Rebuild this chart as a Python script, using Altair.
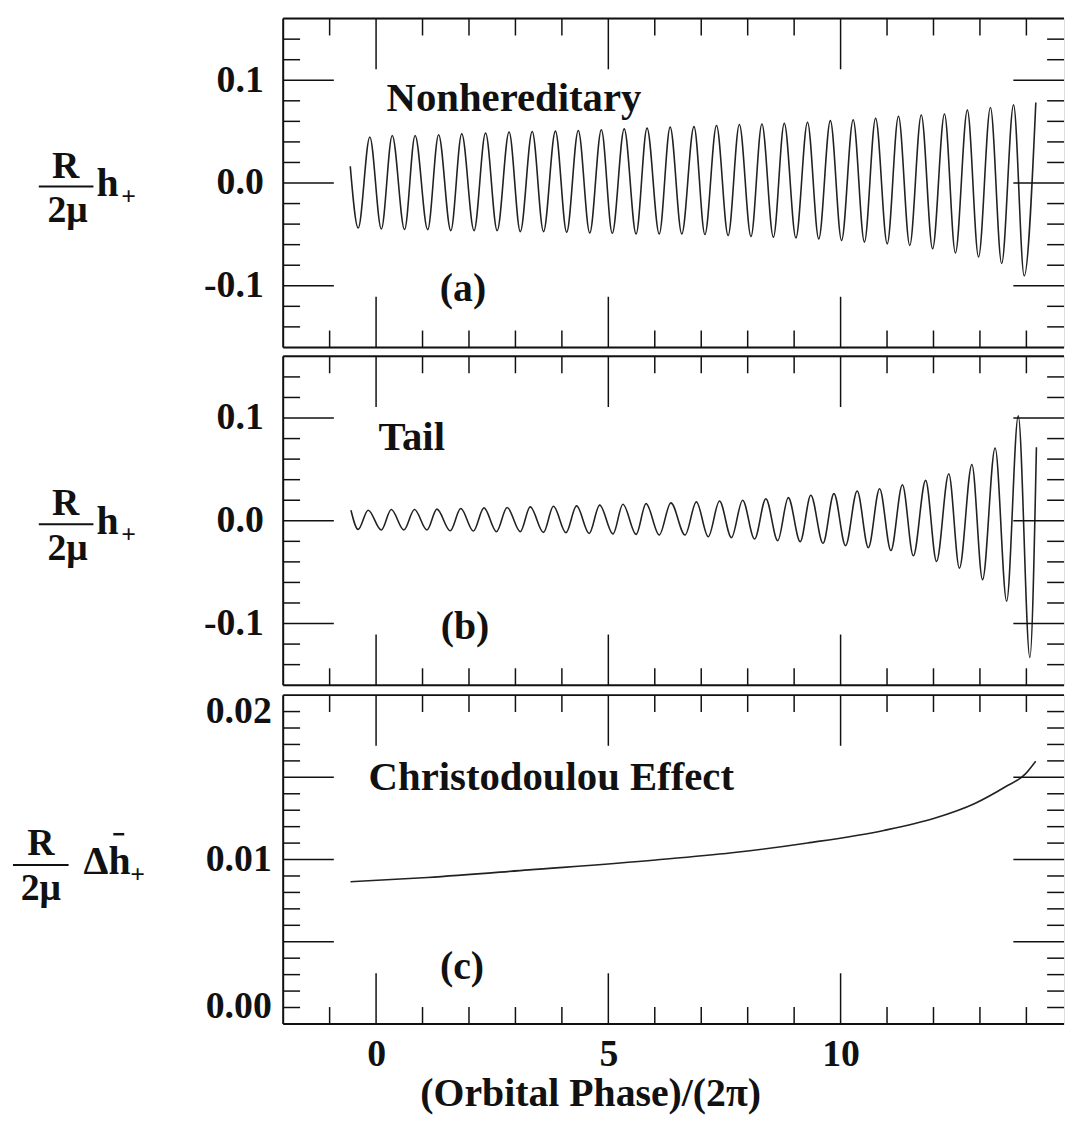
import altair as alt
import pandas as pd

# ---------------- data ----------------
# (a) Nonhereditary waveform: start point, alternating extrema, end point
a_x = [-0.556, -0.385, -0.135, 0.113, 0.348, 0.613, 0.840, 1.111, 1.346, 1.609, 1.844,
       2.109, 2.357, 2.607, 2.863, 3.105, 3.361, 3.605, 3.861, 4.103, 4.353, 4.600,
       4.850, 5.085, 5.342, 5.598, 5.833, 6.096, 6.331, 6.581, 6.844, 7.079, 7.329,
       7.579, 7.821, 8.071, 8.306, 8.553, 8.788, 9.038, 9.288, 9.530, 9.780, 10.021,
       10.271, 10.513, 10.754, 11.004, 11.246, 11.489, 11.737, 11.981, 12.237, 12.472,
       12.729, 12.970, 13.226, 13.468, 13.724, 13.953, 14.203]
a_y = [0.0163, -0.0438, 0.0448, -0.0448, 0.0463, -0.0454, 0.0463, -0.0454, 0.0470, -0.0463,
       0.0479, -0.0463, 0.0486, -0.0463, 0.0496, -0.0473, 0.0501, -0.0473, 0.0505, -0.0479,
       0.0511, -0.0486, 0.0518, -0.0489, 0.0527, -0.0496, 0.0534, -0.0496, 0.0544, -0.0496,
       0.0549, -0.0501, 0.0559, -0.0511, 0.0569, -0.0521, 0.0575, -0.0527, 0.0582, -0.0534,
       0.0592, -0.0544, 0.0607, -0.0559, 0.0616, -0.0575, 0.0630, -0.0592, 0.0649, -0.0607,
       0.0662, -0.0640, 0.0671, -0.0681, 0.0709, -0.0719, 0.0735, -0.0783, 0.0760, -0.0904,
       0.0783]

# (b) Tail waveform
b_x = [-0.541, -0.385, -0.171, 0.113, 0.327, 0.598, 0.827, 1.096, 1.310, 1.596, 1.823,
       2.094, 2.323, 2.592, 2.821, 3.105, 3.318, 3.605, 3.818, 4.088, 4.316, 4.588,
       4.814, 5.100, 5.314, 5.598, 5.812, 6.096, 6.346, 6.652, 6.895, 7.151, 7.393,
       7.650, 7.891, 8.148, 8.391, 8.647, 8.874, 9.131, 9.359, 9.622, 9.857, 10.107,
       10.357, 10.598, 10.840, 11.083, 11.331, 11.566, 11.831, 12.066, 12.329, 12.558,
       12.827, 13.056, 13.327, 13.575, 13.825, 14.075, 14.216]
b_y = [0.0103, -0.0084, 0.0103, -0.0090, 0.0109, -0.0090, 0.0109, -0.0090, 0.0113, -0.0097,
       0.0119, -0.0100, 0.0126, -0.0106, 0.0129, -0.0106, 0.0135, -0.0113, 0.0142, -0.0116,
       0.0145, -0.0123, 0.0152, -0.0129, 0.0161, -0.0132, 0.0167, -0.0138, 0.0174, -0.0138,
       0.0184, -0.0155, 0.0193, -0.0164, 0.0200, -0.0177, 0.0215, -0.0193, 0.0225, -0.0203,
       0.0248, -0.0219, 0.0264, -0.0242, 0.0290, -0.0261, 0.0312, -0.0290, 0.0351, -0.0341,
       0.0393, -0.0396, 0.0457, -0.0461, 0.0548, -0.0573, 0.0708, -0.0783, 0.1021, -0.1330,
       0.0715]

# (c) Christodoulou effect
c_x = [-0.55, 1.11, 3.29, 6.02, 7.66, 9.29, 10.93, 12.02, 12.89, 13.54, 13.98, 14.2]
c_y = [0.00865, 0.00891, 0.00937, 0.00997, 0.01041, 0.01101, 0.01177, 0.01251,
       0.01341, 0.01441, 0.01521, 0.01598]

# tick values
x_major = [0, 5, 10]
x_minor = [-1, 1, 2, 3, 4, 6, 7, 8, 9, 11, 12, 13, 14]
y_ab_major = [-0.1, 0.0, 0.1]
y_ab_minor = [-0.14, -0.12, -0.08, -0.06, -0.04, -0.02, 0.02, 0.04, 0.06, 0.08, 0.12, 0.14]
y_c_major = [0.005, 0.01, 0.015]
y_c_minor = [0.001, 0.002, 0.003, 0.004, 0.006, 0.007, 0.008, 0.009, 0.011, 0.012,
             0.013, 0.014, 0.016, 0.017, 0.018, 0.019]
x_labels = [0, 5, 10]
y_ab_labels = [-0.1, 0.0, 0.1]
y_c_labels = [0.0, 0.01, 0.02]

panel_names = ["Nonhereditary", "Tail", "Christodoulou Effect"]
panel_tags = ["(a)", "(b)", "(c)"]
x_title = "(Orbital Phase)/(2\u03c0)"

# ---------------- style ----------------
FONT = "Liberation Serif"
W, H = 786, 331
MAJ, MIN = 51, 17
INK = "#111111"
xscale = alt.Scale(domain=[-2, 14.81], nice=False, zero=False)
one = pd.DataFrame({"k": [0]})


def txt(s, x, y, size, align="left", baseline="alphabetic"):
    return alt.Chart(one).mark_text(
        text=s, font=FONT, fontWeight="bold", fontSize=size, align=align,
        baseline=baseline, color=INK
    ).encode(x=alt.value(x), y=alt.value(y))


def hrule(x1, x2, y, w=2):
    return alt.Chart(one).mark_rule(color=INK, strokeWidth=w).encode(
        x=alt.value(x1), x2=alt.value(x2), y=alt.value(y))


def vrule(x, y1, y2, w=2):
    return alt.Chart(one).mark_rule(color=INK, strokeWidth=w).encode(
        x=alt.value(x), y=alt.value(y1), y2=alt.value(y2))


def panel(xs, ys, yscale, yaxis, xaxis, ymaj, ymin, interp, label_layers):
    df = pd.DataFrame({"x": xs, "y": ys})
    X = lambda f: alt.X(f, type="quantitative", scale=xscale, axis=xaxis)
    Y = lambda f: alt.Y(f, type="quantitative", scale=yscale, axis=yaxis)
    line = alt.Chart(df).mark_line(color="#222222", strokeWidth=1.6,
                                   interpolate=interp, clip=True).encode(
        x=X("x"), y=Y("y"))
    layers = [line]
    for vals, ln in ((x_major, MAJ), (x_minor, MIN)):
        d = pd.DataFrame({"t": vals})
        layers.append(alt.Chart(d).mark_rule(color=INK, strokeWidth=1.5).encode(
            x=X("t"), y=alt.value(H), y2=alt.value(H - ln)))
        layers.append(alt.Chart(d).mark_rule(color=INK, strokeWidth=1.5).encode(
            x=X("t"), y=alt.value(0), y2=alt.value(ln)))
    for vals, ln in ((ymaj, MAJ), (ymin, MIN)):
        d = pd.DataFrame({"t": vals})
        layers.append(alt.Chart(d).mark_rule(color=INK, strokeWidth=1.5).encode(
            y=Y("t"), x=alt.value(0), x2=alt.value(ln)))
        layers.append(alt.Chart(d).mark_rule(color=INK, strokeWidth=1.5).encode(
            y=Y("t"), x=alt.value(W), x2=alt.value(W - ln)))
    # frame (right edge is cut off in the original)
    layers += [hrule(0, W, 0), hrule(0, W, H), vrule(0, 0, H)]
    layers += label_layers
    return alt.layer(*layers).properties(width=W, height=H)


lab_common = dict(ticks=False, domain=False, grid=False, labelFont=FONT,
                  labelFontWeight="bold", labelColor=INK, title=None, tickSize=0)

yaxis_ab = alt.Axis(values=y_ab_labels,
                    labelExpr="replace(format(datum.value, '.1f'), '\u2212', '-')",
                    labelFontSize=38, labelPadding=20, labelBaseline="middle",
                    **lab_common)
yaxis_c = alt.Axis(values=y_c_labels, format=".2f", labelFontSize=38,
                   labelPadding=12, labelFlush=True, labelFlushOffset=2,
                   **lab_common)
xaxis_c = alt.Axis(values=x_labels, format="d", ticks=False, domain=False, grid=False,
                   tickSize=0, labelFont=FONT, labelFontWeight="bold", labelColor=INK,
                   labelFontSize=38, labelPadding=42, labelBaseline="alphabetic",
                   title=x_title, titleFont=FONT, titleFontWeight="bold",
                   titleFontSize=40, titleColor=INK, titleX=309, titleY=82,
                   titleBaseline="alphabetic", titleAlign="center")

yscale_ab = alt.Scale(domain=[-0.16, 0.16], nice=False, zero=False)
yscale_c = alt.Scale(domain=[0.0, 0.02], nice=False, zero=False)


def h_label():
    return [
        txt("R", -219, 160, 38, align="center"),
        hrule(-246, -191, 169, 2.2),
        txt("2\u03bc", -217, 205, 38, align="center"),
        txt("h", -188, 179, 40),
        txt("+", -163, 180, 26, baseline="middle"),
    ]


labels_a = h_label() + [txt(panel_names[0], 104, 93, 41),
                        txt(panel_tags[0], 181, 284, 40, align="center")]
labels_b = h_label() + [txt(panel_names[1], 96, 94, 41),
                        txt(panel_tags[1], 183, 284, 40, align="center")]
labels_c = [
    txt("R", -244, 161, 38, align="center"),
    hrule(-272, -216, 171, 2.2),
    txt("2\u03bc", -244, 206, 38, align="center"),
    txt("\u0394h", -201, 180, 40),
    hrule(-171, -160, 140, 2.5),
    txt("+", -154, 181, 26, baseline="middle"),
    txt(panel_names[2], 86, 95, 41),
    txt(panel_tags[2], 180, 286, 40, align="center"),
]

pa = panel(a_x, a_y, yscale_ab, yaxis_ab, None, y_ab_major, y_ab_minor, "monotone", labels_a)
pb = panel(b_x, b_y, yscale_ab, yaxis_ab, None, y_ab_major, y_ab_minor, "monotone", labels_b)
pc = panel(c_x, c_y, yscale_c, yaxis_c, xaxis_c, y_c_major, y_c_minor, "monotone", labels_c)

chart = alt.vconcat(pa, pb, pc, spacing=5).properties(
    padding={"left": 3, "top": 5, "right": 0, "bottom": 0}
).configure_view(strokeWidth=0).configure(background="white")

chart.save("out.html", embed_options={"renderer": "svg", "actions": False})
